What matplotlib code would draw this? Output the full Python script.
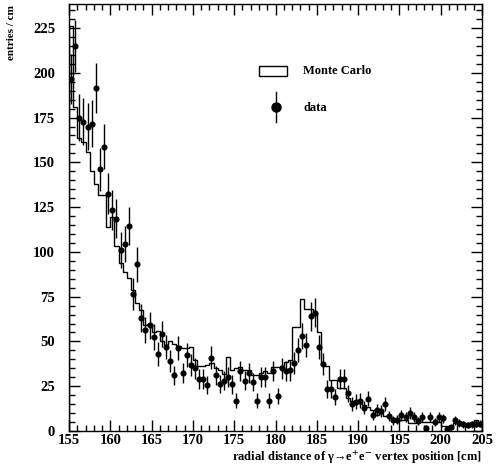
import numpy as np
import matplotlib
matplotlib.use("Agg")
import matplotlib.pyplot as plt
from matplotlib.patches import Rectangle
from matplotlib.lines import Line2D
from matplotlib.ticker import MultipleLocator

# ====== DATA ======
# histogram bin edges: 155 -> 205 cm, 0.5 cm wide
bin_lo = 155.0
bin_hi = 205.0
bin_width = 0.5

# Monte Carlo (entries / cm), one value per bin
mc_counts = [226, 181, 163.7, 161.6, 156, 145, 138, 131.5, 131.5, 114,
             119.7, 103.5, 93.8, 88.8, 85.6, 78.8, 71.7, 67.6, 59, 60,
             55.5, 56, 50, 48, 50, 48.6, 47.5, 46.4, 46.4, 47,
             39.7, 36.3, 36.3, 37, 37.8, 35, 34, 32, 41.5, 34,
             35, 35.6, 34, 34, 31, 31, 32.6, 33.5, 32.6, 35.6,
             35.6, 36.3, 38.7, 39.7, 58.3, 58.3, 73.6, 68, 68, 66,
             55.5, 37, 36.3, 28.5, 28.5, 23.8, 23.8, 18.2, 16.8, 16.8,
             15.5, 14.5, 13.2, 11.7, 9, 9.9, 8.4, 8.4, 7.5, 7,
             6.1, 6.1, 4.7, 4.7, 5, 5, 5, 5, 5, 5,
             2.8, 2.8, 2.8, 4.3, 4.3, 4.3, 4.3, 4.3, 6.1, 4.3]

# data points (entries / cm) at bin centres
data_counts = [196.6, 215, 175, 172.6, 170, 171.5, 191.6, 146, 158.7, 132.4,
               123.5, 118.4, 101, 104.5, 114.5, 76.5, 93, 63, 56.4, 59,
               52.5, 43, 54, 47, 39, 31, 46.4, 32.4, 42.5, 37,
               35, 29, 29, 25.7, 41, 31, 26.3, 28, 30, 26,
               17, 33.5, 28, 32.4, 27.4, 17, 30, 30, 17, 33.5,
               19.7, 35, 33.5, 34, 38, 45, 53, 48, 64, 66,
               47, 37.4, 23.5, 23.5, 19, 29, 29, 21, 15, 16.4,
               17, 13, 18, 9, 11.7, 11, 15, 8.4, 6, 6.3,
               8.7, 8, 10, 8, 5.4, 8, 1.8, 8, 5, 7.8,
               7, 1, 2, 6, 4.6, 3.7, 3.3, 3.7, 4, 4]

edges = np.arange(bin_lo, bin_hi + bin_width / 2, bin_width)
centres = 0.5 * (edges[:-1] + edges[1:])
data_arr = np.array(data_counts)
data_err = np.sqrt(data_arr)

# ====== STYLE ======
plt.rcParams["font.family"] = ["Liberation Serif", "DejaVu Serif"]
plt.rcParams["font.weight"] = "bold"
plt.rcParams["mathtext.fontset"] = "stix"

fig = plt.figure(figsize=(4.96, 4.65), dpi=100)
ax = fig.add_axes([69 / 496, 1 - 431 / 465, 413 / 496, 427 / 465])

# Monte Carlo histogram
ax.stairs(mc_counts, edges, color="black", linewidth=1.0)

# data with errors
ax.errorbar(centres, data_arr, yerr=data_err, fmt="o", color="black",
            markersize=3.4, elinewidth=1.0, capsize=0)

ax.set_xlim(bin_lo, bin_hi)
ax.set_ylim(0, 238.4)

ax.xaxis.set_major_locator(MultipleLocator(5))
ax.xaxis.set_minor_locator(MultipleLocator(1))
ax.yaxis.set_major_locator(MultipleLocator(25))
ax.yaxis.set_minor_locator(MultipleLocator(5))
ax.tick_params(which="both", direction="in", top=True, right=True,
               labelsize=10.5, width=1.0)
ax.tick_params(which="major", length=8)
ax.tick_params(which="minor", length=4)
ax.tick_params(axis="y", pad=10)
ax.tick_params(axis="x", pad=2)
for s in ax.spines.values():
    s.set_linewidth(1.0)

# axis titles (ROOT style: right / top aligned)
fig.text(482 / 496, 1 - 457 / 465,
         r"radial distance of γ→e$^{+}$e$^{-}$ vertex position [cm]",
         fontsize=9, fontweight="bold", ha="right", va="center")
fig.text(12 / 496, 1 - 5 / 465, "entries / cm", fontsize=8,
         fontweight="bold", rotation=90, ha="center", va="top")

# ====== LEGEND ======
ax.add_patch(Rectangle((0.460, 0.831), 0.068, 0.024, transform=ax.transAxes,
                       facecolor="white", edgecolor="black", linewidth=1.0))
ax.text(0.567, 0.843, "Monte Carlo", transform=ax.transAxes,
        fontsize=9, fontweight="bold", va="center", ha="left")
ax.add_line(Line2D([0.501, 0.501], [0.724, 0.794], transform=ax.transAxes,
                   color="black", linewidth=1.0))
ax.add_line(Line2D([0.501], [0.759], transform=ax.transAxes, marker="o",
                   markersize=6.5, color="black"))
ax.text(0.567, 0.757, "data", transform=ax.transAxes,
        fontsize=9, fontweight="bold", va="center", ha="left")

plt.savefig("out.png", dpi=100)
plt.close()
